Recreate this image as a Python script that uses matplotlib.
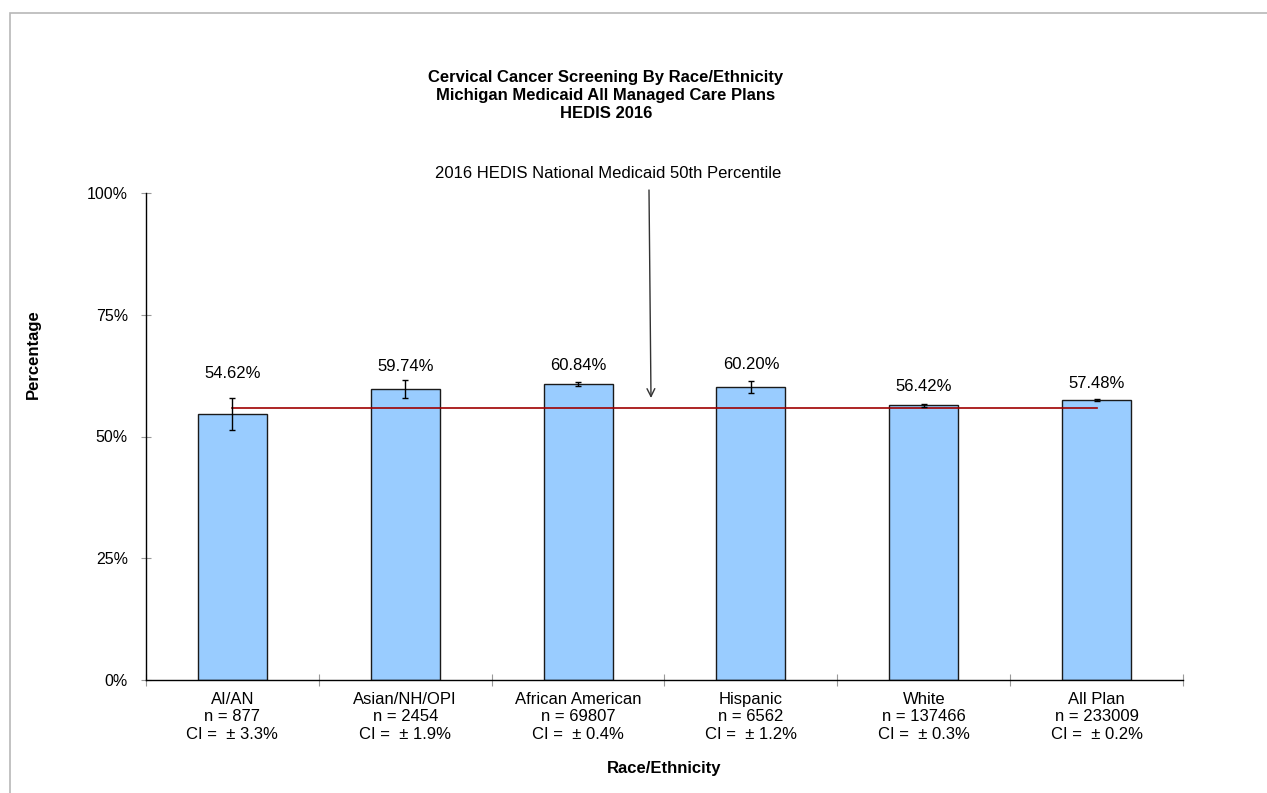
import numpy as np
import matplotlib
matplotlib.use("Agg")
import matplotlib.pyplot as plt
from matplotlib.patches import Rectangle

plt.rcParams['font.family'] = ['Liberation Sans', 'DejaVu Sans']

# Datos
categorias = ['AI/AN', 'Asian/NH/OPI', 'African American', 'Hispanic', 'White', 'All Plan']
n_valores = [877, 2454, 69807, 6562, 137466, 233009]
porcentajes = [54.62, 59.74, 60.84, 60.20, 56.42, 57.48]
ci_valores = [3.3, 1.9, 0.4, 1.2, 0.3, 0.2]
percentil_50 = 55.85
yticks_vals = [0, 25, 50, 75, 100]

titulo = ('Cervical Cancer Screening By Race/Ethnicity\n'
          'Michigan Medicaid All Managed Care Plans\n'
          'HEDIS 2016')
texto_flecha = '2016 HEDIS National Medicaid 50th Percentile'

W, H = 1267, 793
fig = plt.figure(figsize=(W / 100, H / 100), dpi=100)
ax = fig.add_axes([146 / W, 1 - 680 / H, (1183 - 146) / W, (680 - 193) / H])

x = np.arange(len(categorias))
ax.bar(x, porcentajes, width=0.4, color='#99CCFF', edgecolor='#1a1a1a', linewidth=1.0, zorder=2)
ax.plot([x[0], x[-1]], [percentil_50, percentil_50], color='#A00000', linewidth=1.2, zorder=3)
ax.errorbar(x, porcentajes, yerr=ci_valores, fmt='none', ecolor='black',
            elinewidth=1.0, capsize=2.5, capthick=1.0, zorder=4)

# Etiquetas de valores (desplazamiento en puntos sobre la barra)
desplaz = [29.5, 16.6, 13.0, 15.8, 13.7, 12.2]
for xi, v, d in zip(x, porcentajes, desplaz):
    ax.annotate(f'{v:.2f}%', (xi, v), xytext=(0, d), textcoords='offset points',
                ha='center', va='center', fontsize=12, color='black')

ax.set_xlim(-0.5, len(categorias) - 0.5)
ax.set_ylim(0, 100)
ax.set_yticks(yticks_vals)
ax.set_yticklabels([f'{v}%' for v in yticks_vals])
ax.tick_params(axis='y', direction='inout', length=7, width=0.8, color='#999999',
               pad=9.5, labelsize=11.5)

# Marcas en los límites de categoría, etiquetas en el centro
ax.set_xticks(np.arange(-0.5, len(categorias), 1.0))
ax.set_xticklabels([])
ax.set_xticks(x, minor=True)
ax.set_xticklabels([f'{c}\nn = {n}\nCI =  \u00b1 {ci}%' for c, n, ci in zip(categorias, n_valores, ci_valores)],
                   minor=True)
ax.tick_params(axis='x', which='major', direction='inout', length=9, width=0.8, color='#999999')
ax.tick_params(axis='x', which='minor', length=0, pad=8.5, labelsize=12)

for s in ['top', 'right']:
    ax.spines[s].set_visible(False)
for s in ['left', 'bottom']:
    ax.spines[s].set_color('black')
    ax.spines[s].set_linewidth(1.0)

# Flecha hacia la línea del percentil
ax.annotate('', xy=(651 / W, 1 - 398 / H), xycoords='figure fraction',
            xytext=(649 / W, 1 - 190 / H), textcoords='figure fraction',
            arrowprops=dict(arrowstyle='->', color='#333333', lw=1.0,
                            shrinkA=0, shrinkB=0, mutation_scale=14))
fig.text(608 / W, 1 - 173 / H, texto_flecha, ha='center', va='center', fontsize=12)

fig.text(606 / W, 1 - 95.5 / H, titulo, ha='center', va='center', fontsize=12,
         fontweight='bold', linespacing=1.22)
fig.text(33 / W, 1 - 354 / H, 'Percentage', rotation=90, ha='center', va='center',
         fontsize=12, fontweight='bold')
fig.text(664 / W, 1 - 768 / H, 'Race/Ethnicity', ha='center', va='center',
         fontsize=12, fontweight='bold')

# Marco gris del área del gráfico
fig.patches.append(Rectangle((9.5 / W, -0.1), 1.2, 1 - 12.5 / H + 0.1, fill=False,
                             edgecolor='#b8b8b8', linewidth=1.2,
                             transform=fig.transFigure, figure=fig))

fig.savefig('out.png', dpi=100)
